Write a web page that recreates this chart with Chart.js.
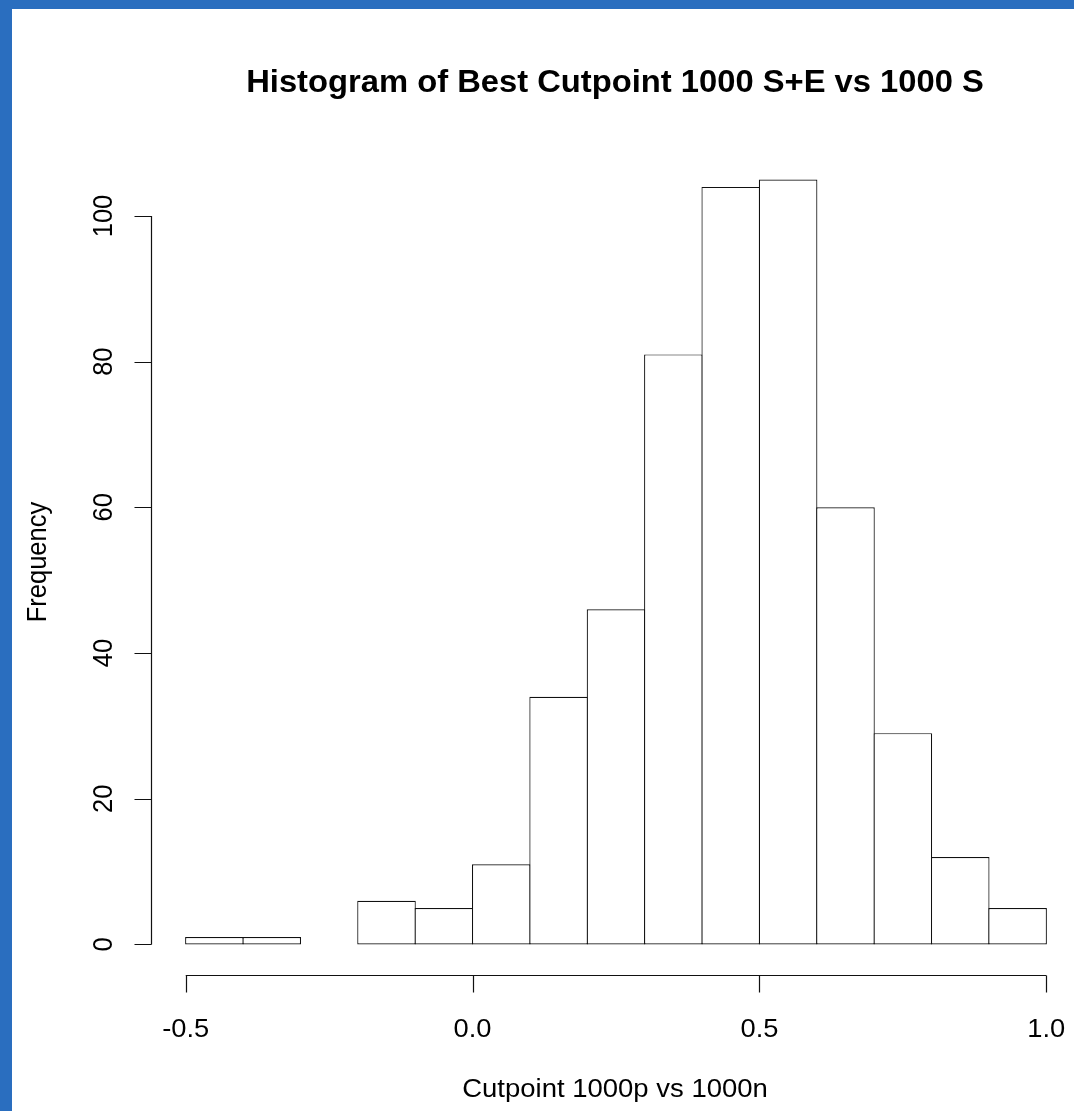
<!DOCTYPE html>
<html>
<head>
<meta charset="utf-8">
<title>Histogram of Best Cutpoint 1000 S+E vs 1000 S</title>
<script src="https://cdn.jsdelivr.net/npm/chart.js@4.4.1/dist/chart.umd.min.js"></script>
<style>
  html, body { margin: 0; padding: 0; background: #fff; overflow: hidden; }
  #wrap { position: relative; width: 1074px; height: 1111px; }
  canvas { display: block; }
  .edge { position: absolute; background: #2a6ebf; }
</style>
</head>
<body>
<div id="wrap">
  <canvas id="hist" width="1074" height="1111"></canvas>
  <div class="edge" style="left:0;top:0;width:1074px;height:9px"></div>
  <div class="edge" style="left:0;top:0;width:12px;height:1111px"></div>
</div>
<script>
// Histogram bin edges and the count in each bin
const breaks = [-0.5, -0.4, -0.3, -0.2, -0.1, 0.0, 0.1, 0.2, 0.3, 0.4, 0.5, 0.6, 0.7, 0.8, 0.9, 1.0];
const counts = [1, 1, 0, 6, 5, 11, 34, 46, 81, 104, 105, 60, 29, 12, 5];

// Axis ticks and labels
const xTicks = [-0.5, 0.0, 0.5, 1.0];
const xTickLabels = ['-0.5', '0.0', '0.5', '1.0'];
const yTicks = [0, 20, 40, 60, 80, 100];
const yTickLabels = ['0', '20', '40', '60', '80', '100'];

const mainTitle = 'Histogram of Best Cutpoint 1000 S+E vs 1000 S';
const xTitle = 'Cutpoint 1000p vs 1000n';
const yTitle = 'Frequency';

const FONT = '"Liberation Sans", Arial, Helvetica, sans-serif';
const SX = 1.07;      // slight horizontal widening of the lettering
const TICK = 17;      // tick mark length
const INK = '#111';

const bins = counts.map((c, i) => ({ x: (breaks[i] + breaks[i + 1]) / 2, y: c }));

function drawText(ctx, text, x, y, font, rot, align, base) {
  ctx.save();
  ctx.translate(x, y);
  ctx.scale(SX, 1);
  if (rot) ctx.rotate(rot);
  ctx.font = font;
  ctx.fillStyle = '#000';
  ctx.textAlign = align;
  ctx.textBaseline = base;
  ctx.fillText(text, 0, 0);
  ctx.restore();
}

// Base-graphics style axes: detached lines spanning the first to last tick
const baseAxes = {
  id: 'baseAxes',
  afterDraw(chart) {
    const { ctx, chartArea, scales } = chart;
    const xs = scales.x, ys = scales.y;
    ctx.save();
    ctx.strokeStyle = INK;
    ctx.lineWidth = 1.2;

    // y axis
    const ax = Math.round(chartArea.left) + 0.5;
    ctx.beginPath();
    ctx.moveTo(ax, ys.getPixelForValue(yTicks[0]));
    ctx.lineTo(ax, ys.getPixelForValue(yTicks[yTicks.length - 1]));
    yTicks.forEach(v => {
      const py = Math.round(ys.getPixelForValue(v)) + 0.5;
      ctx.moveTo(ax, py);
      ctx.lineTo(ax - TICK, py);
    });
    ctx.stroke();
    yTicks.forEach((v, i) => {
      drawText(ctx, yTickLabels[i], ax - 39.5, ys.getPixelForValue(v),
        '25.5px ' + FONT, -Math.PI / 2, 'center', 'alphabetic');
    });

    // x axis
    const ay = Math.round(chartArea.bottom) + 0.5;
    ctx.beginPath();
    ctx.moveTo(xs.getPixelForValue(xTicks[0]), ay);
    ctx.lineTo(xs.getPixelForValue(xTicks[xTicks.length - 1]), ay);
    xTicks.forEach(v => {
      const px = Math.round(xs.getPixelForValue(v)) + 0.5;
      ctx.moveTo(px, ay);
      ctx.lineTo(px, ay + TICK);
    });
    ctx.stroke();
    xTicks.forEach((v, i) => {
      drawText(ctx, xTickLabels[i], xs.getPixelForValue(v), ay + 61,
        '25.5px ' + FONT, 0, 'center', 'alphabetic');
    });

    // titles, centred on the plot region
    const cx = 615;
    drawText(ctx, mainTitle, cx, 92, 'bold 30.6px ' + FONT, 0, 'center', 'alphabetic');
    drawText(ctx, xTitle, cx, 1097, '25.7px ' + FONT, 0, 'center', 'alphabetic');
    const cy = (chartArea.top + chartArea.bottom) / 2;
    drawText(ctx, yTitle, 46, cy, '25.5px ' + FONT, -Math.PI / 2, 'center', 'alphabetic');
    ctx.restore();
  }
};

new Chart(document.getElementById('hist'), {
  type: 'bar',
  data: {
    datasets: [{
      data: bins,
      backgroundColor: '#ffffff',
      borderColor: INK,
      borderWidth: 1.2,
      borderSkipped: false,
      inflateAmount: 0,
      barPercentage: 1.021,
      categoryPercentage: 1
    }]
  },
  options: {
    responsive: false,
    animation: false,
    devicePixelRatio: 1,
    layout: { padding: { left: 151, right: 0, top: 149, bottom: 136 } },
    plugins: { legend: { display: false }, tooltip: { enabled: false }, title: { display: false } },
    scales: {
      x: { type: 'linear', offset: false, min: -0.5605, max: 1.0483, display: false },
      y: { type: 'linear', min: -4.2, max: 109.2, display: false }
    }
  },
  plugins: [baseAxes]
});
</script>
</body>
</html>
